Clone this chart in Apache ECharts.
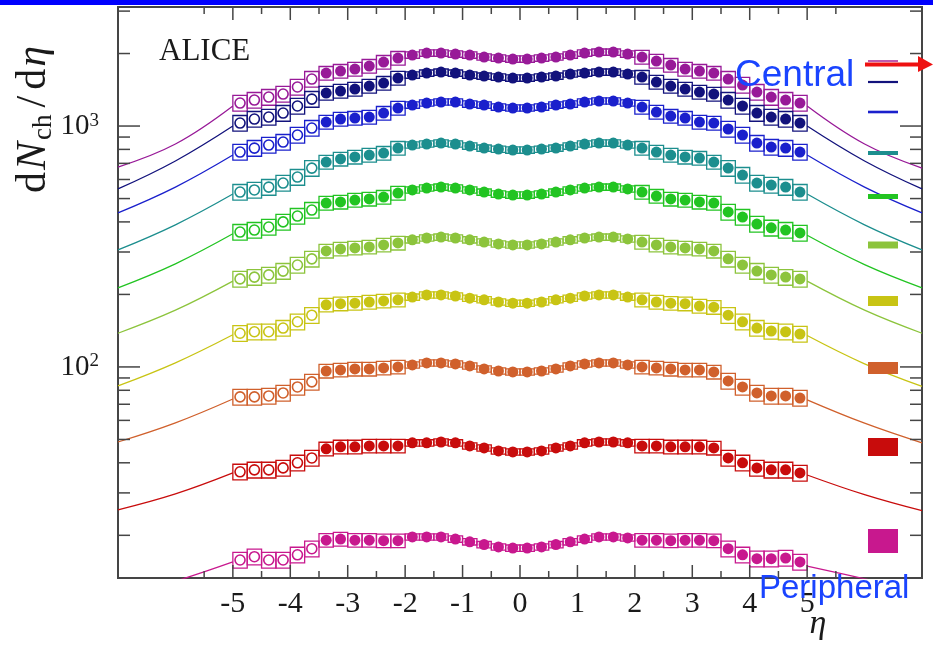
<!DOCTYPE html>
<html><head><meta charset="utf-8">
<script src="https://cdn.jsdelivr.net/npm/echarts@6/dist/echarts.min.js"></script>
<style>html,body{margin:0;padding:0;background:#fff}#c{width:933px;height:646px}</style>
</head><body><div id="c"></div>
<script>
// ---------- data ----------
const ETA = [-4.875,-4.625,-4.375,-4.125,-3.875,-3.625,-3.375,-3.125,-2.875,-2.625,-2.375,-2.125,
  -1.875,-1.625,-1.375,-1.125,-0.875,-0.625,-0.375,-0.125,0.125,0.375,0.625,0.875,1.125,1.375,1.625,1.875,
  2.125,2.375,2.625,2.875,3.125,3.375,3.625,3.875,4.125,4.375,4.625,4.875];
// fractional systematic uncertainty per eta bin
const SYST = [0.075,0.075,0.075,0.075,0.075,0.075,0.065,0.065,0.065,0.065,0.065,0.065,
  0.03,0.03,0.03,0.03,0.03,0.03,0.03,0.03,0.03,0.03,0.03,0.03,0.03,0.03,0.03,0.03,
  0.065,0.065,0.065,0.065,0.065,0.065,0.075,0.075,0.075,0.075,0.075,0.075];
const CENTRALITY = ['0-5%','5-10%','10-20%','20-30%','30-40%','40-50%','50-60%','60-70%','70-80%','80-90%'];
const COLORS = ['#981a98','#12127c','#1a20cc','#1c8e8e','#22c422','#8cc43c','#c8c414','#d0602c','#c80c0c','#c8188e'];

const dn_0_5 = [1246,1282,1319,1358,1452,1567,1659,1691,1724,1774,1843,1915,1971,2009,2009,1990,1971,1934,1915,1897,
  1897,1915,1934,1971,2009,2028,2028,1990,1934,1861,1791,1724,1691,1659,1567,1480,1384,1319,1282,1246];
const dn_5_10 = [1029,1069,1090,1132,1211,1294,1371,1397,1424,1466,1508,1582,1628,1659,1675,1659,1628,1612,1597,1582,
  1582,1597,1612,1644,1659,1675,1675,1644,1597,1523,1466,1424,1384,1358,1282,1211,1132,1090,1069,1029];
const dn_10_20 = [780,810,834,858,918,981,1039,1069,1079,1090,1132,1188,1222,1246,1258,1258,1234,1222,1199,1188,
  1188,1199,1222,1234,1258,1270,1270,1246,1199,1143,1100,1079,1039,1029,972,918,850,818,810,780];
const dn_20_30 = [532,543,558,580,614,669,709,730,744,758,772,810,834,842,850,842,826,810,802,795,
  795,802,810,826,842,850,850,834,810,780,758,744,736,709,669,626,580,569,558,532];
const dn_30_40 = [363,370,381,400,423,448,479,484,493,498,507,527,543,553,558,553,543,532,522,517,
  517,522,532,543,553,558,558,548,532,512,498,493,484,479,440,419,392,378,370,360];
const dn_40_50 = [232,236,241,250,265,281,303,309,312,315,321,327,337,343,346,343,337,330,324,321,
  321,324,330,337,343,346,346,340,330,321,315,312,309,303,281,265,250,241,236,232];
const dn_50_60 = [138,140,140,145,154,164,181,183,184,186,188,190,195,199,199,197,193,190,186,184,
  184,186,190,193,197,199,199,195,190,186,184,183,179,177,164,154,145,141,140,137];
const dn_60_70 = [75.1,75.1,75.8,78.0,82.6,86.7,96.2,97.2,98.1,98.1,99.1,100,101.9,103.9,103.9,102.9,101.0,98.1,96.2,95.3,
  95.3,96.2,98.1,101.0,102.9,103.9,103.9,101.9,100,99.1,98.1,97.2,97.2,95.3,87.5,82.6,78.0,75.8,75.8,74.3];
const dn_70_80 = [36.7,37.4,37.4,38.1,40.0,41.9,45.7,46.6,46.6,47.0,47.0,47.0,48.4,48.4,48.8,48.4,47.0,46.1,44.8,44.4,
  44.4,44.8,46.1,47.0,48.4,48.8,48.8,48.4,47.0,47.0,46.6,46.6,46.6,46.1,41.9,40.0,38.1,37.4,37.4,36.3];
const dn_80_90 = [15.8,16.3,15.8,15.8,16.6,17.6,19.1,19.3,19.1,19.1,19.0,19.0,19.7,19.7,19.7,19.3,18.8,18.3,17.9,17.7,
  17.7,17.9,18.3,18.8,19.3,19.7,19.7,19.5,19.1,19.1,19.0,19.1,19.1,19.0,17.6,16.6,16.0,16.0,16.1,15.5];

// fit-curve tails outside the measured range
const TAIL_L_ETA = [-7,-6,-5];
const TAIL_R_ETA = [5,6,7];
const tailL = [[676,842,1211],[548,716,1000],[436,558,758],[306,389,522],[213,268,357],
  [138,172,227],[83.4,104,136],[48.8,58.6,73.6],[25.5,29.7,36.3],[11.1,12.9,15.5]];
const tailR = [[1211,842,669],[1000,716,548],[758,558,436],[522,389,306],[352,266,213],
  [227,172,138],[135,103,83.0],[73.0,58.4,48.4],[35.6,29.5,25.3],[14.9,13.2,11.65]];

// axis ticks
const X_TICKS_MAJOR = [-5,-4,-3,-2,-1,0,1,2,3,4,5];
const X_TICKS_MINOR = [-5.5,-4.5,-3.5,-2.5,-1.5,-0.5,0.5,1.5,2.5,3.5,4.5,5.5];
const Y_TICKS_MAJOR = [100,1000];
const Y_TICKS_MINOR = [20,30,40,50,60,70,80,90,200,300,400,500,600,700,800,900,2000,3000];

const X_MIN = -7, X_MAX = 7, Y_MIN = 13.3, Y_MAX = 3120, BIN = 0.25;
const ALL = [dn_0_5,dn_5_10,dn_10_20,dn_20_30,dn_30_40,dn_40_50,dn_50_60,dn_60_70,dn_70_80,dn_80_90];

// ---------- chart ----------
const AX = '#454545';
const chart = echarts.init(document.getElementById('c'), null, {renderer:'canvas'});
const series = [];

ALL.forEach((vals, k) => {
  const col = COLORS[k];
  series.push({
    name: CENTRALITY[k] + ' syst', type: 'custom', z: 2, silent: true,
    encode: {x: 0, y: 1},
    data: ETA.map((e, i) => [e, vals[i], SYST[i]]),
    renderItem: (params, api) => {
      const x = api.value(0), v = api.value(1), s = api.value(2);
      const p1 = api.coord([x - BIN / 2, v * (1 + s)]);
      const p2 = api.coord([x + BIN / 2, v * (1 - s)]);
      return {type: 'rect', shape: {x: p1[0], y: p1[1], width: p2[0] - p1[0], height: p2[1] - p1[1]},
        style: {fill: null, stroke: col, lineWidth: 1.3}};
    }
  });
  series.push({
    name: CENTRALITY[k], type: 'scatter', z: 3, symbol: 'circle', symbolSize: 11,
    itemStyle: {color: col, opacity: 1},
    data: ETA.map((e, i) => e < -3.5
      ? {value: [e, vals[i]], symbolSize: 10, itemStyle: {color: '#ffffff', borderColor: col, borderWidth: 1.6, opacity: 1}}
      : [e, vals[i]])
  });
  [[TAIL_L_ETA, tailL[k]], [TAIL_R_ETA, tailR[k]]].forEach(([xs, ys]) => {
    series.push({
      type: 'line', z: 1, smooth: 0.4, showSymbol: false, symbol: 'none', silent: true,
      lineStyle: {color: col, width: 1.3},
      data: xs.map((x, i) => [x, ys[i]])
    });
  });
});

series.push({
  type: 'custom', z: 5, silent: true, encode: {x: 0, y: 1},
  data: X_TICKS_MAJOR.map(x => [x, Y_MIN, 1]).concat(X_TICKS_MINOR.map(x => [x, Y_MIN, 0])),
  renderItem: (params, api) => {
    const x = api.value(0), len = api.value(2) ? 13 : 7;
    const b = api.coord([x, Y_MIN]), t = api.coord([x, Y_MAX]);
    return {type: 'group', children: [
      {type: 'line', shape: {x1: b[0], y1: b[1], x2: b[0], y2: b[1] - len}, style: {stroke: AX, lineWidth: 1.5}},
      {type: 'line', shape: {x1: t[0], y1: t[1], x2: t[0], y2: t[1] + len}, style: {stroke: AX, lineWidth: 1.5}}
    ]};
  }
});
series.push({
  type: 'custom', z: 5, silent: true, encode: {x: 0, y: 1},
  data: Y_TICKS_MAJOR.map(v => [X_MIN, v, 1]).concat(Y_TICKS_MINOR.map(v => [X_MIN, v, 0])),
  renderItem: (params, api) => {
    const v = api.value(1), len = api.value(2) ? 22 : 12;
    const l = api.coord([X_MIN, v]), r = api.coord([X_MAX, v]);
    return {type: 'group', children: [
      {type: 'line', shape: {x1: l[0], y1: l[1], x2: l[0] + len, y2: l[1]}, style: {stroke: AX, lineWidth: 1.5}},
      {type: 'line', shape: {x1: r[0], y1: r[1], x2: r[0] - len, y2: r[1]}, style: {stroke: AX, lineWidth: 1.5}}
    ]};
  }
});

const SERIF = '"Liberation Serif", "Times New Roman", serif';
const SANS = '"Liberation Sans", Arial, sans-serif';
const legendBars = [[61,1.6,'#b0309a'],[82,2.2,COLORS[1]],[112,2.6,COLORS[2]],[153,4,COLORS[3]],[196.5,5,COLORS[4]],
  [245,7,COLORS[5]],[301,10,COLORS[6]],[368,12,COLORS[7]],[447,18,COLORS[8]],[541,24,COLORS[9]]];

const option = {
  animation: false,
  backgroundColor: '#ffffff',
  grid: {left: 118, right: 11, top: 7, bottom: 68, show: true, borderColor: AX, borderWidth: 2, backgroundColor: 'transparent'},
  xAxis: {
    type: 'value', min: X_MIN, max: X_MAX, interval: 1,
    axisLine: {show: false}, axisTick: {show: false}, splitLine: {show: false},
    axisLabel: {formatter: v => (Math.abs(v) <= 5 ? String(v) : ''), fontFamily: SERIF, fontSize: 30, color: '#1a1a1a', margin: 11}
  },
  yAxis: {
    type: 'log', logBase: 10, min: Y_MIN, max: Y_MAX,
    axisLine: {show: false}, axisTick: {show: false}, splitLine: {show: false},
    axisLabel: {
      formatter: v => {
        const p = Math.log10(v);
        return Math.abs(p - Math.round(p)) < 1e-6 && (Math.round(p) === 2 || Math.round(p) === 3)
          ? '{b|10}{s|' + Math.round(p) + '}' : '';
      },
      margin: 19,
      rich: {
        b: {fontFamily: SERIF, fontSize: 29, color: '#1a1a1a', lineHeight: 30, verticalAlign: 'middle'},
        s: {fontFamily: SERIF, fontSize: 19, color: '#1a1a1a', lineHeight: 18, verticalAlign: 'top'}
      }
    }
  },
  graphic: [
    {type: 'rect', shape: {x: 0, y: 0, width: 933, height: 5}, style: {fill: '#0000fe'}, z: 200},
    {type: 'text', x: 159, y: 52, style: {text: 'ALICE', font: '31px ' + SERIF, fill: '#1a1a1a', verticalAlign: 'middle'}, z: 50},
    {type: 'text', x: 34, y: 193, rotation: Math.PI / 2, z: 50,
      style: {
        text: '{r|d}{i|N}{sub|ch}{sl|/}{r2|d}{i2|η}',
        align: 'left', verticalAlign: 'middle',
        rich: {
          r: {font: '42px ' + SERIF, fill: '#1a1a1a', lineHeight: 46, padding: [0, 2, 0, 0]},
          i: {font: 'italic 42px ' + SERIF, fill: '#1a1a1a', lineHeight: 46, padding: [0, 2, 0, 0]},
          sub: {font: '27px ' + SERIF, fill: '#1a1a1a', lineHeight: 17, verticalAlign: 'bottom', padding: [0, 2, 0, 0]},
          sl: {font: '42px ' + SERIF, fill: '#1a1a1a', lineHeight: 46, padding: [0, 6, 0, 5]},
          r2: {font: '42px ' + SERIF, fill: '#1a1a1a', lineHeight: 46, padding: [0, 2, 0, 0]},
          i2: {font: 'italic 42px ' + SERIF, fill: '#1a1a1a', lineHeight: 46}
        }
      }},
    {type: 'text', x: 818, y: 624, style: {text: 'η', font: 'italic 34px ' + SERIF, fill: '#1a1a1a', align: 'center', verticalAlign: 'middle'}, z: 50},
    ...legendBars.map(([yc, h, c]) => ({type: 'rect', shape: {x: 868, y: yc - h / 2, width: 30, height: h}, style: {fill: c}, z: 40})),
    {type: 'line', shape: {x1: 865, y1: 64.5, x2: 920, y2: 64.5}, style: {stroke: '#ee1111', lineWidth: 4}, z: 60},
    {type: 'polygon', shape: {points: [[918, 56], [933, 64.5], [918, 72]]}, style: {fill: '#ee1111'}, z: 60},
    {type: 'text', x: 735, y: 76, style: {text: 'Central', font: '37px ' + SANS, fill: '#1a44ff', verticalAlign: 'middle'}, z: 60},
    {type: 'text', x: 759, y: 589, style: {text: 'Peripheral', font: '33px ' + SANS, fill: '#1a44ff', verticalAlign: 'middle'}, z: 60}
  ],
  series: series
};
chart.setOption(option);
</script></body></html>
